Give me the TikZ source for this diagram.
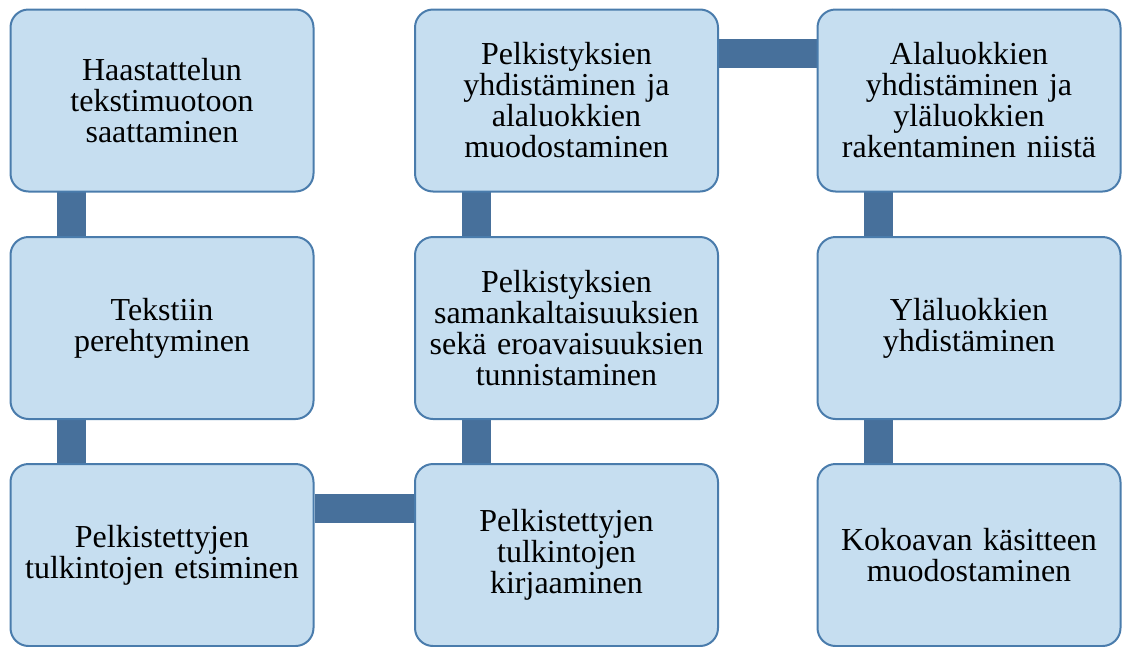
\documentclass[tikz,border=0pt]{standalone}
\usepackage{fontspec}
\setmainfont{Liberation Serif}
\usetikzlibrary{backgrounds}
\definecolor{boxfill}{RGB}{198,222,240}
\definecolor{boxline}{RGB}{74,124,172}
\definecolor{barcol}{RGB}{71,112,155}
\tikzset{
  stepbox/.style={draw=boxline, fill=boxfill, line width=2pt, rounded corners=18pt,
    minimum width=303pt, minimum height=182pt, inner sep=0pt,
    align=center, text width=295pt,
    font=\fontsize{32pt}{31pt}\selectfont},
  bar/.style={draw=barcol, line width=29pt}
}
\begin{document}
\begin{tikzpicture}[x=1pt,y=-1pt]
\useasboundingbox (0,0) rectangle (1122,646);
% column 1
\node[stepbox] (a1) at (162,100.5) {Haastattelun\\tekstimuotoon\\saattaminen};
\node[stepbox] (a2) at (162,328) {Tekstiin\\perehtyminen};
\node[stepbox] (a3) at (162,555) {Pelkistettyjen\\tulkintojen etsiminen};
% column 2
\node[stepbox] (b1) at (566.5,100.5) {Pelkistyksien\\yhdistäminen ja\\alaluokkien\\muodostaminen};
\node[stepbox] (b2) at (566.5,328) {Pelkistyksien\\samankaltaisuuksien\\sekä eroavaisuuksien\\tunnistaminen};
\node[stepbox] (b3) at (566.5,555) {Pelkistettyjen\\tulkintojen\\kirjaaminen};
% column 3
\node[stepbox] (c1) at (969,100.5) {Alaluokkien\\yhdistäminen ja\\yläluokkien\\rakentaminen niistä};
\node[stepbox] (c2) at (969,328) {Yläluokkien\\yhdistäminen};
\node[stepbox] (c3) at (969,555) {Kokoavan käsitteen\\muodostaminen};
% connecting bars behind the boxes
\begin{scope}[on background layer]
  \draw[bar] ([xshift=62pt]a1.north west) -- ([xshift=62pt]a2.north west);
  \draw[bar] ([xshift=62pt]a2.north west) -- ([xshift=62pt]a3.north west);
  \draw[bar] ([yshift=-45pt]a3.north east) -- ([yshift=-45pt]b3.north west);
  \draw[bar] ([xshift=62pt]b3.north west) -- ([xshift=62pt]b2.north west);
  \draw[bar] ([xshift=62pt]b2.north west) -- ([xshift=62pt]b1.north west);
  \draw[bar] ([yshift=-45pt]b1.north east) -- ([yshift=-45pt]c1.north west);
  \draw[bar] ([xshift=62pt]c1.north west) -- ([xshift=62pt]c2.north west);
  \draw[bar] ([xshift=62pt]c2.north west) -- ([xshift=62pt]c3.north west);
\end{scope}
\end{tikzpicture}
\end{document}
